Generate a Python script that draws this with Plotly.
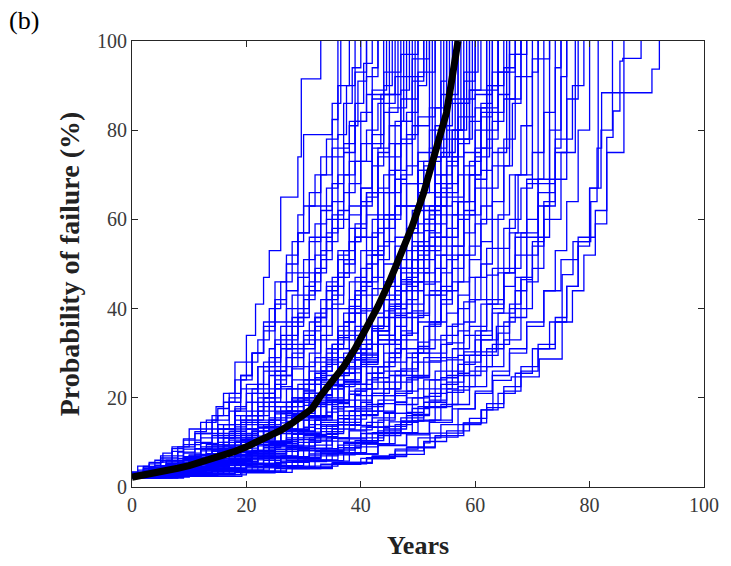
import plotly.graph_objects as go

# ---------------- data ----------------
mean_years = [0, 2, 4, 6, 8, 10, 12, 14, 16, 18, 20, 22, 24, 26, 28, 30, 31.5, 33, 35, 37,
              39, 41, 43, 45, 47, 49, 51, 53, 55, 57]
mean_prob = [2.2, 2.6, 3.1, 3.6, 4.2, 4.8, 5.5, 6.2, 7.1, 8.0, 9.0, 10.1, 11.3, 12.7, 14.3,
             16.3, 17.6, 20.5, 23.5, 27, 31, 35.5, 40.5, 46, 52, 58.5, 66, 74.5, 84, 100]

# Monte Carlo realisations: [year, probability after the jump]
early_sims = [
    [[0,2.5],[1,4.7],[3,5.5],[5.4,7.6],[7,9],[10,13],[12,14.5],[14.7,18],[16,21],[18,28],[20,34],[21.6,41],[23,47],[24,53],[26,65],[29,74],[29.6,91.5],[33,100]],
    [[0,2.2],[2,3.4],[4,4.8],[7,7],[9,9.5],[12,12],[15,16],[17,20],[19,25],[21,30],[23,37],[25,46],[27,52],[29,61],[30,79],[35,82.4],[36,100]],
    [[0,2],[3,3],[6,4.4],[9,6],[12,8.5],[15,11],[18,15],[20,19],[22,23],[24,29],[26,36],[28,43],[30,51],[32,59],[34,67],[36,79],[37.5,90],[39,100]],
    [[0,2.8],[2,4],[5,5.6],[8,7.8],[11,10],[14,13],[17,17],[19,22],[22,27],[25,33],[27,40],[29,47],[31,55],[33,63],[35,74],[37,86],[38.5,94],[40,100]],
    [[0,2.4],[4,3.6],[7,5],[10,7],[13,9.5],[16,13],[19,16],[22,20],[24,25],[26,31],[28,38],[30,45],[32,52],[34,60],[36,70],[38,81],[39.5,91],[41,100]],
    [[0,2],[3,3],[6,4],[10,5.6],[14,8],[17,11],[20,15],[23,21],[25,26],[27,33],[29,40],[31,48],[33,56],[35,64],[37,75],[39,86],[40.5,95],[42,100]],
    [[0,3],[2,4.2],[6,6],[9,8.5],[12,11],[15,14],[18,18],[20,23],[23,28],[26,34],[29,39],[31,46],[33,53],[35,61],[37,70],[39,82],[41,92],[43,100]],
    [[0,2.3],[5,3.5],[9,5],[13,7],[16,10],[19,13],[22,17],[25,22],[28,27],[30,32],[32,38],[34,45],[36,53],[38,63],[40,73],[42,87],[44,100]],
    [[0,2.6],[3,3.8],[6,5],[9,6.8],[12,9],[15,12],[18,16],[21,21],[23,26],[25,32],[27,37],[30,42],[32,48],[34,55],[36,60],[38,68],[40,77],[42,89],[44.5,100]],
    [[0,2.1],[3,3.2],[7,4.6],[11,6.5],[15,9],[18,11],[21,14],[24,18],[27,22],[30,27],[32,33],[34,40],[36,47],[38,55],[40,64],[42,76],[43.5,88],[45,100]],
    [[0,2.7],[4,3.9],[8,5.4],[11,7.2],[14,9.4],[17,12.5],[20,16],[23,20],[26,25],[28,29],[30,33],[32,38],[34,44],[36,51],[38,58],[40,67],[42,77],[44,88],[46,100]],
    [[0,2.2],[4,3],[8,4.2],[12,5.8],[16,8],[20,11],[23,14],[26,18],[29,23],[31,28],[33,34],[35,41],[37,48],[39,56],[41,65],[43,76],[45,88],[47,100]],
    [[0,3.2],[3,4.4],[6,5.8],[9,7.6],[12,9.8],[15,13],[18,17],[21,22],[24,27],[27,31],[30,35],[33,40],[35,45],[37,51],[39,58],[41,66],[43,75],[45,85],[48,100]],
    [[0,2],[5,2.8],[10,4],[14,5.6],[18,7.8],[22,10.5],[25,13.5],[28,17],[31,21],[33,26],[35,32],[37,39],[39,47],[41,56],[43,66],[45,77],[47,89],[48.5,100]],
    [[0,2.5],[4,3.5],[8,4.8],[12,6.6],[16,9],[19,11.5],[22,14.5],[25,18],[28,22],[31,26],[34,31],[36,36],[38,42],[40,49],[42,57],[44,66],[46,77],[49,100]],
    [[0,2.3],[3,3.2],[7,4.3],[11,5.8],[15,7.8],[19,10.5],[22,13.5],[25,17],[28,20],[31,24],[34,29],[36,34],[38,40],[40,46],[42,53],[44,61],[46,71],[48,84],[50,100]],
    [[0,3],[2,4.5],[5,6.5],[8,9],[11,12],[14,15],[17,19],[19,24],[21,30],[23,36],[25,42],[27,50],[29,57],[31,63],[33,70],[35,76],[38,82],[41,88],[44,93],[47,97],[50,100]],
    [[0,2.4],[4,3.3],[8,4.5],[12,6],[16,8],[20,10.5],[24,13.5],[27,17],[30,21],[33,26],[35,31],[37,37],[39,44],[41,52],[43,61],[45,71],[47,82],[49,92],[51,100]],
    [[0,3.4],[2,4.6],[4,6],[7,8],[9,10.5],[12,13],[14,16],[16,19],[18,24],[20,28],[22,33],[24,40],[26,46],[28,55],[30,63],[32,70],[34,78],[36,90],[38,100]],
    [[0,2.3],[3,3.4],[5,4.6],[8,6.4],[11,8.6],[14,11.5],[16,14],[18,17.5],[20,21],[22,27],[24,31],[25,37],[27,44],[29,48],[31,56],[33,62],[35,68],[37,77],[39,93],[41,100]],
    [[0,2.5],[2,3.3],[5,4.3],[8,5.6],[10,7.2],[13,9],[16,11],[18,13.5],[20,16],[23,20],[25,24],[27,29],[28,36],[30,43],[32,49],[34,57],[36,62],[38,73],[40,84],[42,94],[43,100]],
    [[0,3.1],[3,4.2],[6,5.3],[9,6.6],[12,8.1],[15,10],[17,12],[19,14.5],[22,18],[24,22],[26,25],[28,30],[30,34],[32,39],[34,46],[36,52],[38,61],[40,67],[42,79],[44,90],[45.5,100]],
    [[0,2.1],[4,2.9],[7,3.9],[10,5.1],[13,6.6],[16,8.4],[19,10.6],[22,13.3],[25,16.4],[28,20],[30,24],[32,29],[34,33],[36,40],[38,46],[40,53],[42,60],[44,70],[46,82],[47.5,100]],
    [[0,2.8],[3,3.6],[6,4.6],[10,5.9],[13,7.5],[16,9.4],[19,11.6],[22,14],[25,16.8],[28,19.5],[31,23],[33,27],[35,32],[37,37],[39,43],[41,50],[43,58],[45,66],[47,78],[49.5,100]],
    [[0,2.6],[1,3.8],[3,5.2],[5,7],[7,8.6],[9,10.8],[11,12.4],[13,15],[15,17.6],[17,21],[19,25],[21,30],[23,35],[25,41],[27,48],[29,57],[31,66],[33,74],[35,86],[36.5,100]],
    [[0,2],[2,2.8],[5,3.8],[8,5],[11,6.5],[14,8.3],[17,10.5],[20,13],[22,16],[24,19],[26,22.5],[28,26.5],[30,31],[32,36],[34,42],[36,48],[38,55],[40,63],[42,72],[44,84],[46.5,100]],
]

mid_sims = [
    [[0,2.9],[4,3.9],[8,5.2],[12,7],[16,9.4],[19,12],[22,15],[25,19],[28,24],[31,30],[33,36],[35,43],[37,50],[39,56],[41,61],[43,67],[45,74],[47,82],[49,91],[51,100]],
    [[0,2.1],[5,2.9],[10,4],[14,5.4],[18,7.2],[22,9.5],[26,12.5],[29,16],[32,20],[35,25],[37,30],[39,36],[41,43],[43,51],[45,60],[47,70],[49,81],[52,100]],
    [[0,2.4],[3,3.6],[6,5],[9,6.5],[12,8.5],[15,11],[18,14],[21,17],[23,21],[25,26],[27,32],[29,38],[31,44],[33,51],[35,58],[37,66],[39,73],[41,80],[43,86],[46,92],[49,96],[52,100]],
    [[0,2.6],[4,3.4],[8,4.5],[12,6],[16,8],[20,10.5],[24,13.5],[27,16.5],[30,20],[33,24],[36,29],[38,34],[40,40],[42,47],[44,55],[46,63],[48,72],[50,83],[53,100]],
    [[0,2.7],[4,3.7],[7,5],[10,6.5],[13,8.5],[16,11.5],[19,15],[22,19],[25,23],[27,27],[29,32],[31,37],[33,42],[35,47],[37,53],[39,59],[41,66],[43,74],[45,81],[47,87],[50,93],[53,100]],
    [[0,2.4],[4,3.2],[9,4.2],[13,5.5],[17,7.3],[21,9.6],[25,12.5],[28,15],[31,18],[34,22],[37,27],[40,33],[42,39],[44,46],[46,54],[48,63],[50,73],[52,85],[54,100]],
    [[0,2],[5,2.8],[10,3.8],[15,5.2],[19,7],[23,9.3],[27,12],[30,15],[33,18.5],[36,22.5],[39,27],[41,32],[43,38],[45,45],[47,53],[49,62],[51,72],[53,85],[55,100]],
    [[0,3],[3,3.9],[7,5],[11,6.4],[15,8.2],[19,10.5],[23,13.5],[27,17],[30,21],[33,25],[36,28],[39,31],[42,36],[44,42],[46,49],[48,57],[50,66],[52,76],[54,88],[56,100]],
    [[0,2.2],[4,3],[9,4],[14,5.3],[18,7],[22,9.2],[26,12],[30,15.5],[33,19.5],[36,24],[39,29],[42,35],[45,42],[47,49],[49,57],[51,66],[53,76],[55,88],[57,100]],
    [[0,2.2],[5,3],[10,4.1],[15,5.6],[20,7.5],[24,9.8],[28,12.5],[32,15.5],[35,19],[38,23],[41,28],[43,33],[45,39],[47,46],[49,54],[51,63],[53,74],[55,86],[57,100]],
    [[0,2.7],[4,3.5],[9,4.6],[14,6],[18,7.8],[22,10],[26,12.7],[30,16],[34,20],[37,24],[40,29],[43,35],[45,41],[47,48],[49,55],[51,62],[53,70],[55,80],[58,100]],
    [[0,2.3],[6,3.1],[11,4.2],[16,5.7],[21,7.6],[25,9.8],[29,12.3],[33,15],[36,18],[39,22],[42,27],[45,33],[47,39],[49,46],[51,54],[53,63],[55,73],[57,86],[59,100]],
    [[0,2],[5,2.7],[11,3.6],[16,4.8],[21,6.4],[25,8.4],[29,11],[33,14],[37,18],[40,22],[43,27],[46,33],[48,39],[50,46],[52,54],[54,63],[56,74],[58,87],[60,100]],
    [[0,2.8],[4,3.6],[9,4.7],[14,6.1],[19,8],[23,10.2],[27,13],[31,16],[35,19.5],[38,23],[41,27],[44,32],[47,38],[49,44],[51,51],[53,59],[55,68],[57,78],[59,89],[61,100]],
    [[0,2.5],[5,3.2],[10,4.2],[15,5.5],[20,7.2],[25,9.3],[29,11.8],[33,14.5],[37,18],[41,22],[44,26],[47,31],[50,37],[52,44],[54,52],[56,61],[58,72],[60,85],[62,100]],
    [[0,2.6],[5,3.4],[10,4.5],[14,5.9],[18,7.7],[22,10],[26,13],[29,16.5],[32,20.5],[35,25],[38,30],[41,36],[44,43],[47,51],[50,59],[53,68],[56,78],[59,89],[62,100]],
    [[0,2.1],[6,2.8],[12,3.7],[17,4.9],[22,6.5],[27,8.5],[31,11],[35,14],[39,17.5],[42,21],[45,25],[48,30],[51,36],[53,43],[55,51],[57,60],[59,70],[61,83],[63,100]],
    [[0,2.6],[5,3.3],[10,4.2],[15,5.4],[20,7],[25,9],[30,11.5],[34,14],[38,17],[42,20.5],[46,25],[49,30],[52,36],[54,42],[56,49],[58,57],[60,67],[62,80],[64,100]],
    [[0,2.1],[7,2.7],[14,3.5],[20,4.5],[26,5.8],[31,7.4],[36,9.4],[40,12],[43,15],[46,19],[48,24],[50,30],[52,37],[54,45],[56,54],[58,64],[60,76],[62,89],[64,100]],
    [[0,2.9],[3,3.8],[7,4.9],[11,6.2],[15,7.9],[19,10],[23,12.5],[27,15.5],[30,19],[33,23],[36,27],[39,31],[42,35],[45,40],[48,46],[51,53],[54,61],[57,70],[60,80],[62,90],[64,100]],
    [[0,2.4],[6,3.1],[12,4],[18,5.3],[23,7],[28,9.2],[32,11.8],[36,14.5],[40,18],[44,22],[47,26],[50,31],[53,37],[55,44],[57,52],[59,61],[61,71],[63,84],[65,100]],
    [[0,2.2],[7,2.9],[13,3.8],[19,5],[24,6.6],[29,8.6],[34,11],[38,13.8],[42,17],[46,21],[49,25],[52,30],[55,36],[57,43],[59,51],[61,60],[63,72],[66,100]],
    [[0,2.5],[5,3.3],[10,4.4],[15,5.8],[20,7.6],[24,9.8],[28,12.5],[31,15.5],[34,19],[37,23],[40,28],[43,34],[46,41],[49,48],[52,56],[55,65],[58,75],[61,85],[64,93],[67,100]],
    [[0,2.9],[5,3.6],[11,4.5],[17,5.7],[22,7.2],[27,9],[32,11.3],[36,14],[40,17],[44,20.5],[48,24.5],[51,29],[54,34],[57,40],[59,47],[61,55],[63,64],[65,78],[67,100]],
    [[0,2.3],[6,3],[13,3.9],[19,5.1],[25,6.7],[30,8.7],[35,11],[40,13.5],[44,16.5],[48,20],[51,24],[54,29],[57,35],[59,42],[61,50],[63,60],[65,72],[66.5,86],[68,100]],
    [[0,2.3],[4,3.1],[8,4.1],[12,5.3],[16,6.9],[19,8.7],[22,10.8],[25,13],[28,15.8],[31,19],[34,22.7],[37,26.5],[40,31],[42,36],[44,42],[46,49],[48,58],[50,71],[52.5,100]],
    [[0,2],[4,2.6],[8,3.5],[13,4.6],[17,6],[21,7.8],[25,10],[28,12.6],[31,15.6],[34,19],[37,23],[40,27.5],[43,32],[45,38],[47,44],[49,51],[51,60],[53,74],[54.5,100]],
    [[0,3.3],[3,4.1],[7,5.1],[11,6.3],[15,7.7],[19,9.4],[22,11.4],[25,13.6],[28,16],[31,18.8],[34,22],[37,25.6],[40,29.6],[43,34],[46,40],[48,47],[50,54],[52,63],[54,75],[56.5,100]],
    [[0,2.4],[5,3.1],[9,4],[13,5.1],[17,6.5],[21,8.2],[25,10.2],[29,12.5],[32,15],[35,18],[38,21.5],[41,25.5],[44,30],[47,35],[49,41],[51,48],[53,56],[55,66],[57,80],[58.5,100]],
    [[0,2.6],[4,3.5],[8,4.6],[12,6],[15,7.8],[18,10],[21,12.6],[24,15.5],[27,19],[30,23],[33,28],[36,33],[39,39],[41,46],[43,54],[45,61],[47,68],[50,75],[53,81],[56,87],[58,93],[60.5,100]],
    [[0,2.2],[6,2.9],[11,3.8],[16,4.9],[21,6.3],[25,8],[29,10],[33,12.4],[37,15.2],[41,18.5],[44,22],[47,26.5],[50,31.5],[52,37],[54,44],[56,52],[58,62],[60,74],[62.5,100]],
    [[0,2.7],[6,3.4],[12,4.3],[17,5.4],[22,6.8],[27,8.5],[31,10.5],[35,13],[39,16],[43,19.5],[46,23.5],[49,28],[52,33],[55,39],[57,46],[59,54],[61,63],[63,75],[65.5,100]],
    [[0,2.5],[3,3.3],[7,4.3],[10,5.5],[14,7],[17,8.8],[20,11],[23,13.5],[26,16.5],[29,20],[32,24],[34,28.5],[36,33.5],[38,39],[40,45],[42,52],[44,60],[46,69],[48,79],[50,90],[51.5,100]],
    [[0,2.1],[5,2.8],[9,3.7],[13,4.8],[17,6.2],[21,8],[25,10.2],[28,12.8],[31,16],[34,19.5],[37,23.5],[40,28],[43,33],[46,38.5],[48,45],[50,52],[52,61],[54,74],[55.5,100]],
    [[0,2.8],[4,3.7],[8,4.8],[12,6.2],[16,8],[20,10.2],[24,13],[27,16],[30,19.5],[33,23.5],[36,27],[39,30],[43,32],[46,36],[48,42],[50,49],[52,57],[54,67],[56,80],[57.5,100]],
    [[0,2.4],[5,3.1],[10,4],[15,5.2],[20,6.7],[24,8.5],[28,10.6],[32,13.1],[36,16],[39,19.5],[42,23.5],[45,28],[48,33],[50,39],[52,46],[54,54],[56,64],[58,78],[59.5,100]],
]

dense_sims = [
    [[0,2.5],[3,3],[6,3.6],[9,4.3],[12,5.1],[15,6],[18,7],[21,8.2],[24,9.5],[27,11],[29,12.5],[31,14],[33,15.8],[35,17.5],[37,19.5],[39,21.5],[41,24],[43,27],[45,30],[47,34],[49,38],[51,43],[53,49],[55,56],[57,64],[59,73],[61,84],[63,100]],
    [[0,2.2],[2,2.6],[5,3.1],[8,3.7],[11,4.4],[14,5.3],[17,6.3],[20,7.5],[23,8.8],[26,10.3],[28,11.8],[30,13.4],[32,15],[34,16.8],[36,18.7],[38,20.8],[40,23],[42,25.5],[44,28],[46,31],[48,34.5],[50,38.5],[52,43],[54,48],[56,54],[58,61],[60,69],[62,78],[64,88],[66,100]],
    [[0,3],[2,3.5],[4,4.1],[7,4.8],[10,5.7],[13,6.7],[16,7.9],[19,9.3],[22,11],[24,12.6],[26,14.4],[28,16.3],[30,18.3],[32,20.5],[34,23],[36,25.5],[38,28.5],[40,32],[42,35.5],[44,39.5],[46,44],[48,49],[50,55],[52,62],[54,70],[56,80],[58,91],[60,100]],
    [[0,2.4],[3,2.9],[6,3.5],[9,4.2],[12,5],[15,5.9],[18,7],[21,8.1],[24,9.3],[27,10.6],[30,12],[33,13.6],[36,15.3],[38,17],[40,19],[42,21],[44,23.5],[46,26],[48,29],[50,32.5],[52,36.5],[54,41],[56,46],[58,52],[60,59],[62,67],[64,76],[66,87],[68,100]],
    [[0,2.7],[2,3.2],[5,3.8],[8,4.5],[11,5.4],[14,6.4],[17,7.6],[19,8.8],[21,10.1],[23,11.5],[25,13],[27,14.7],[29,16.5],[31,18.5],[33,20.7],[35,23],[37,25.5],[39,28.5],[41,32],[43,36],[45,40.5],[47,45.5],[49,51],[51,57.5],[53,65],[55,74],[57,86],[59,100]],
    [[0,2.1],[4,2.5],[8,3],[12,3.6],[16,4.3],[20,5.1],[23,6],[26,7],[29,8.1],[32,9.4],[35,10.9],[38,12.6],[41,14.5],[44,16.7],[46,19],[48,21.5],[50,24.5],[52,28],[54,32],[56,36.5],[58,41.5],[60,47],[62,53.5],[64,61],[66,70],[68,81],[70,93],[71,100]],
    [[0,3.1],[2,3.7],[4,4.4],[6,5.2],[9,6.2],[12,7.3],[15,8.6],[18,10],[20,11.5],[22,13.2],[24,15],[26,17],[28,19.2],[30,21.7],[32,24.5],[34,27.5],[36,31],[38,35],[40,39.5],[42,44.5],[44,50],[46,56],[48,63],[50,71],[52,80],[54,91],[55,100]],
    [[0,2.3],[4,3],[8,3.9],[12,5],[16,6.4],[20,8.1],[24,10.2],[28,12.8],[31,15.8],[34,19.4],[37,23.6],[40,28.5],[43,34],[45,40],[47,46.5],[49,53],[51,60],[53,66],[55,72],[57,77],[59,82],[61,86],[63,90],[65,94],[67,97],[69,100]],
    [[0,2.6],[3,3.3],[6,4.2],[9,5.3],[12,6.6],[15,8.2],[18,10.1],[21,12.4],[24,15],[27,18],[30,21.5],[32,25.5],[34,30],[36,35],[38,40.5],[40,46],[42,52],[44,58],[46,63],[48,68],[51,73],[54,78],[57,83],[60,88],[63,93],[66,97],[68,100]],
    [[0,2],[3,2.5],[7,3.1],[11,3.9],[15,4.9],[19,6.1],[23,7.6],[27,9.4],[30,11.5],[33,14],[36,17],[39,20.5],[42,24.5],[45,29],[47,34],[49,39.5],[51,45.5],[53,52],[55,58],[57,64],[59,70],[61,76],[63,82],[65,87],[67,92],[70,96],[73,100]],
    [[0,2.5],[5,2.9],[10,3.4],[15,4],[20,4.7],[25,5.5],[29,6.4],[33,7.5],[37,8.8],[40,10.3],[43,12],[46,14],[49,16.3],[52,19],[55,22],[57,25.5],[59,29.5],[61,34],[63,39],[65,45],[67,52],[69,60],[71,69],[73,80],[75,92],[76,100]],
    [[0,2.8],[3,3.3],[7,3.9],[11,4.6],[15,5.4],[19,6.4],[23,7.5],[27,8.8],[31,10.3],[34,12],[37,14],[40,16.2],[43,18.7],[46,21.5],[49,24.7],[52,28.3],[55,32.3],[58,37],[60,42],[62,47.5],[64,53.5],[66,60],[68,67],[70,75],[72,84],[74,94],[75,100]],
]

late_sims = [
    [[0,2.5],[7,3.2],[14,4.1],[20,5.3],[26,6.8],[31,8.6],[36,10.8],[41,13.4],[45,16.5],[49,20],[52,24],[55,28.5],[58,34],[61,41],[63,49],[65,58],[67,70],[70,100]],
    [[0,2],[8,2.6],[15,3.4],[21,4.5],[27,6],[33,7.8],[38,10],[43,12.6],[47,15.5],[51,19],[54,23],[57,27.5],[60,33],[63,40],[65,48],[67,57],[69,69],[72,100]],
    [[0,2.7],[6,3.3],[13,4.1],[20,5.2],[27,6.6],[33,8.3],[39,10.4],[44,13],[48,16],[52,19.5],[55,23.5],[58,28],[61,33],[64,39],[67,47],[69,56],[71,68],[74,100]],
    [[0,2.4],[8,3],[16,3.8],[23,4.8],[30,6.1],[36,7.7],[41,9.7],[46,12.2],[50,15],[54,18.5],[57,22.5],[60,27],[63,32],[66,38],[69,46],[71,56],[73,69],[76,100]],
    [[0,2.3],[8,2.9],[15,3.6],[22,4.5],[28,5.7],[34,7.2],[39,9],[43,11.5],[47,14.5],[50,18],[53,22],[56,26],[58,30.3],[63.7,36],[66,41],[68,47],[70,55],[72,64],[74,75],[76,87],[78,100]],
    [[0,2.2],[9,2.8],[17,3.5],[25,4.5],[32,5.8],[38,7.4],[43,9.4],[48,12],[52,15],[56,18.5],[59,22.5],[62,27],[65,33],[68,40],[70,49],[72,60],[75,75],[77.5,100]],
    [[0,2.2],[6,2.9],[12,3.8],[18,5],[24,6.5],[29,8.2],[34,10.3],[38,12.8],[42,15.5],[46,18.5],[50,22],[53,26],[56,31],[59,36],[62,42],[65,49],[68,57],[71,66],[74,78],[77,90],[79,100]],
    [[0,2.6],[8,3.1],[16,3.8],[24,4.7],[31,5.9],[37,7.4],[43,9.3],[48,11.7],[52,14.5],[56,17.5],[60,21],[63,25],[66,30],[69,36],[72,44],[74,53],[76,64],[78,80],[80,100]],
    [[0,2.3],[10,2.8],[19,3.4],[27,4.2],[35,5.3],[42,6.8],[48,8.8],[53,11.2],[57,14],[61,17.3],[64,21],[67,25.5],[70,31],[73,37],[76,45],[78,55],[80,67],[82,80],[84,100]],
    [[0,2.5],[9,3],[18,3.6],[27,4.4],[35,5.5],[42,7],[48,9],[53,11.5],[58,14.4],[62,17.8],[65,21.5],[68,26],[71,31],[74,37],[77,44],[79,52],[81,62],[83,75],[86,100]],
    [[0,2.3],[10,2.7],[20,3.3],[28,4.1],[35,5.2],[41,6.6],[46,8.5],[50,11],[54,14],[57,17.5],[60,21.5],[63,26],[66,31],[69,37],[72,44],[75,51],[78,56],[81,59],[83,78.4],[84.1,84.3],[85.3,95.5],[85.8,96.1],[89,100]],
    [[0,2],[9,2.4],[19.2,3.2],[25,4.1],[31,4.7],[36,5.5],[41,6.3],[45,7.3],[51.1,9.9],[52.1,12.1],[57.9,14.3],[61.1,17.3],[63.1,23.9],[66.3,24.7],[71.2,28.7],[75.2,47.6],[77.1,55],[80.2,64],[81.3,76],[82.1,88.4],[90.9,93.7],[92.2,100]],
    [[0,2.1],[7,2.7],[14,3.4],[20,4.3],[26,5.5],[31,7],[36,8.8],[40,11],[44,13.6],[48,16.7],[51,20.3],[54,24.5],[57,29.5],[60,35],[62,41],[64,48],[66,57],[67.5,70],[69,100]],
    [[0,2.6],[7,3.2],[14,4],[20,5],[26,6.3],[32,7.9],[37,9.8],[41,12],[45,14.6],[49,17.6],[52,21],[55,25],[58,29.5],[61,35],[63,41],[65,48],[67,56],[69,68],[71,100]],
    [[0,2.3],[8,2.9],[16,3.7],[23,4.7],[29,6],[35,7.6],[40,9.6],[45,12],[49,14.8],[53,18],[56,21.7],[59,26],[62,31],[65,37],[67,44],[69,52],[71,63],[73,100]],
    [[0,2.9],[6,3.5],[12,4.3],[19,5.3],[25,6.6],[31,8.2],[37,10],[42,12.2],[47,14.8],[51,17.8],[55,21.2],[58,25],[61,29.5],[64,34.5],[66,40],[68,46.5],[70,54],[72,63],[74,76],[75,100]],
    [[0,2.2],[9,2.7],[18,3.3],[26,4.1],[33,5.1],[40,6.4],[46,8.1],[51,10.2],[55,12.6],[59,15.4],[62,18.7],[65,22.5],[68,27],[71,32],[74,38],[76,45],[78,54],[80,67],[81.5,100]],
]

x_ticks = [0, 20, 40, 60, 80, 100]
y_ticks = [0, 20, 40, 60, 80, 100]

# ---------------- figure ----------------
fig = go.Figure()
for group in (early_sims, mid_sims, dense_sims, late_sims):
    for steps in group:
        fig.add_trace(go.Scatter(
            x=[s[0] for s in steps], y=[s[1] for s in steps],
            mode="lines", line=dict(color="#0000ff", width=1.3, shape="hv"),
            hoverinfo="skip", showlegend=False))

fig.add_trace(go.Scatter(
    x=mean_years, y=mean_prob, mode="lines",
    line=dict(color="black", width=7), showlegend=False))

serif = "Liberation Serif, Times New Roman, serif"
axis_common = dict(
    range=[0, 100], ticks="inside", ticklen=6, tickwidth=1, tickcolor="#262626",
    showline=True, linecolor="#262626", linewidth=1, mirror="ticks",
    showgrid=False, zeroline=False,
    tickfont=dict(family=serif, size=20, color="#3a3a3a"),
)

fig.update_layout(
    width=731, height=566,
    margin=dict(l=132, r=21, t=41, b=75),
    paper_bgcolor="white", plot_bgcolor="white",
    xaxis=dict(axis_common, tickvals=x_ticks,
               title=dict(text="<b>Years</b>", standoff=20,
                          font=dict(family=serif, size=26, color="#222222"))),
    yaxis=dict(axis_common, tickvals=y_ticks,
               title=dict(text="<b>Probability of failure (%)</b>", standoff=9,
                          font=dict(family=serif, size=28, color="#222222"))),
    annotations=[dict(text="(b)", xref="paper", yref="paper", x=-0.218, y=1.082,
                      xanchor="left", yanchor="top", showarrow=False,
                      font=dict(family=serif, size=26, color="black"))],
)

fig.write_html("out.html")
